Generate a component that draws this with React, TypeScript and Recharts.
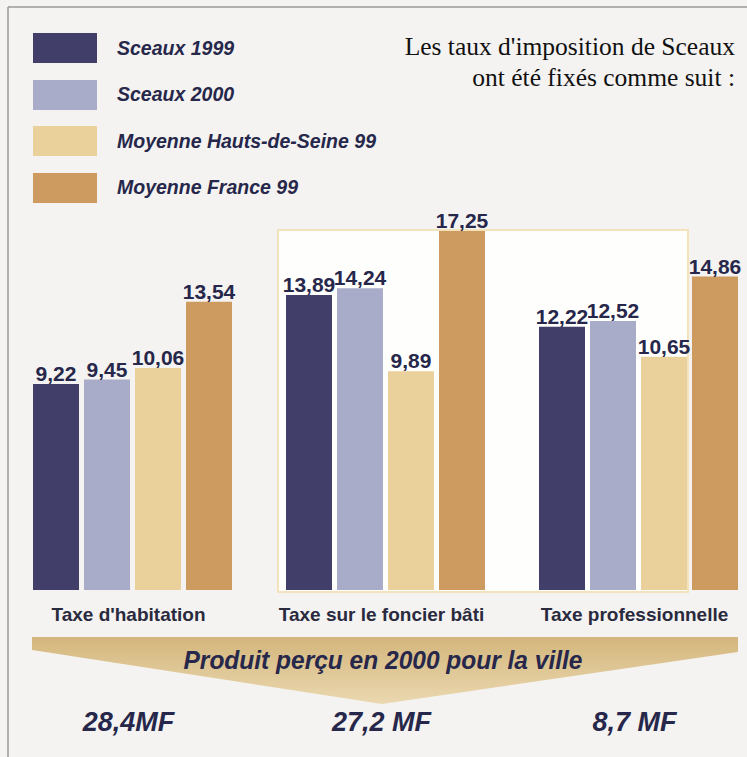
import React from 'react';
import { BarChart, Bar, XAxis, YAxis, LabelList, Legend } from 'recharts';

// Taux d'imposition (%) par taxe
const categories = ["Taxe d'habitation", 'Taxe sur le foncier bâti', 'Taxe professionnelle'];
const sceaux1999 = [9.22, 13.89, 12.22];
const sceaux2000 = [9.45, 14.24, 12.52];
const moyenneHautsDeSeine99 = [10.06, 9.89, 10.65];
const moyenneFrance99 = [13.54, 17.25, 14.86];
const produit2000 = ['28,4MF', '27,2 MF', '8,7 MF'];

const seriesKeys = ['s1999', 's2000', 'hds', 'france'];
const seriesNames = ['Sceaux 1999', 'Sceaux 2000', 'Moyenne Hauts-de-Seine 99', 'Moyenne France 99'];
const seriesColors = ['#413e6a', '#a9acc8', '#ead19c', '#cd9b60'];

// the printed chart does not start its bars at zero
const Y_MIN = -1.6;
const Y_MAX = 17.25;

const data = categories.map((category, i) => ({
  category,
  s1999: sceaux1999[i],
  s2000: sceaux2000[i],
  hds: moyenneHautsDeSeine99[i],
  france: moyenneFrance99[i],
}));

const NAVY = '#26274a';
const SANS = '"Liberation Sans", Arial, sans-serif';

const fmt = (v: any) => (typeof v === 'number' ? v.toFixed(2).replace('.', ',') : v);

function CategoryTick(props: any) {
  const { x, y, payload, index } = props;
  const i = payload?.index ?? index;
  return (
    <g>
      <text x={x - 4} y={y + 23} textAnchor="middle" fill="#2a2a3e" fontFamily={SANS} fontWeight="bold" fontSize={19}>
        {payload.value}
      </text>
      <text x={x - 4} y={y + 133} textAnchor="middle" fill={NAVY} fontFamily={SANS} fontWeight="bold" fontStyle="italic" fontSize={27}>
        {produit2000[i]}
      </text>
    </g>
  );
}

function LegendContent(props: any) {
  const payload = [...(props.payload || [])].sort(
    (a: any, b: any) => seriesNames.indexOf(a.value) - seriesNames.indexOf(b.value)
  );
  return (
    <div style={{ position: 'relative' }}>
      {payload.map((p: any, i: number) => (
        <div key={i} style={{ display: 'flex', alignItems: 'center', height: 30, marginBottom: i < payload.length - 1 ? 16.5 : 0 }}>
          <div style={{ width: 64, height: 30, background: p.color }} />
          <span
            style={{
              marginLeft: 20,
              fontFamily: SANS,
              fontWeight: 'bold',
              fontStyle: 'italic',
              fontSize: 19.5,
              color: NAVY,
            }}
          >
            {p.value}
          </span>
        </div>
      ))}
    </div>
  );
}

export default function App() {
  return (
    <div style={{ position: 'absolute', left: 0, top: 0, width: 747, height: 757, overflow: 'hidden', background: '#f4f3f1' }}>
      <svg width={747} height={757} style={{ position: 'absolute', left: 0, top: 0 }}>
        <defs>
          <linearGradient id="band" x1="0" y1="0" x2="0" y2="1">
            <stop offset="0%" stopColor="#d3b67c" />
            <stop offset="100%" stopColor="#ebd8b0" />
          </linearGradient>
        </defs>
        <line x1={8} y1={7} x2={747} y2={7} stroke="#9a9a9a" strokeWidth={1.5} />
        <line x1={8} y1={7} x2={8} y2={757} stroke="#9a9a9a" strokeWidth={1.5} />
        <rect x={278} y={230} width={410} height={362} fill="#fefefd" stroke="#f2e3bc" strokeWidth={2} />
        <polygon points="32,637 738,637 738,652 382,704 32,650" fill="url(#band)" />
        <text x={383} y={669} textAnchor="middle" fill={NAVY} fontFamily={SANS} fontWeight="bold" fontStyle="italic" fontSize={25} textLength={399} lengthAdjust="spacingAndGlyphs">
          Produit perçu en 2000 pour la ville
        </text>
        <text x={735} y={55} textAnchor="end" fill="#111" fontFamily='"Liberation Serif", "Times New Roman", serif' fontSize={25.5}>
          Les taux d'imposition de Sceaux
        </text>
        <text x={735} y={86} textAnchor="end" fill="#111" fontFamily='"Liberation Serif", "Times New Roman", serif' fontSize={25.5}>
          ont été fixés comme suit :
        </text>
      </svg>
      <div style={{ position: 'absolute', left: 0, top: 0 }}>
        <BarChart
          width={765}
          height={757}
          data={data}
          margin={{ top: 231, right: 0, bottom: 137, left: 6 }}
          barSize={46}
          barGap={5}
        >
          <XAxis dataKey="category" height={30} axisLine={false} tickLine={false} interval={0} tick={<CategoryTick />} />
          <YAxis hide type="number" domain={[Y_MIN, Y_MAX]} />
          <Legend
            layout="vertical"
            align="center"
            verticalAlign="middle"
            content={<LegendContent />}
            wrapperStyle={{ top: 33, left: 33, width: 400 }}
          />
          {seriesKeys.map((k, si) => (
            <Bar
              key={k}
              name={seriesNames[si]}
              dataKey={(d: any) => [Y_MIN, d[k]]}
              fill={seriesColors[si]}
              isAnimationActive={false}
            >
              <LabelList
                dataKey={k}
                position="top"
                offset={3}
                formatter={fmt}
                fill={NAVY}
                fontFamily={SANS}
                fontWeight="bold"
                fontSize={21}
              />
            </Bar>
          ))}
        </BarChart>
      </div>
    </div>
  );
}
